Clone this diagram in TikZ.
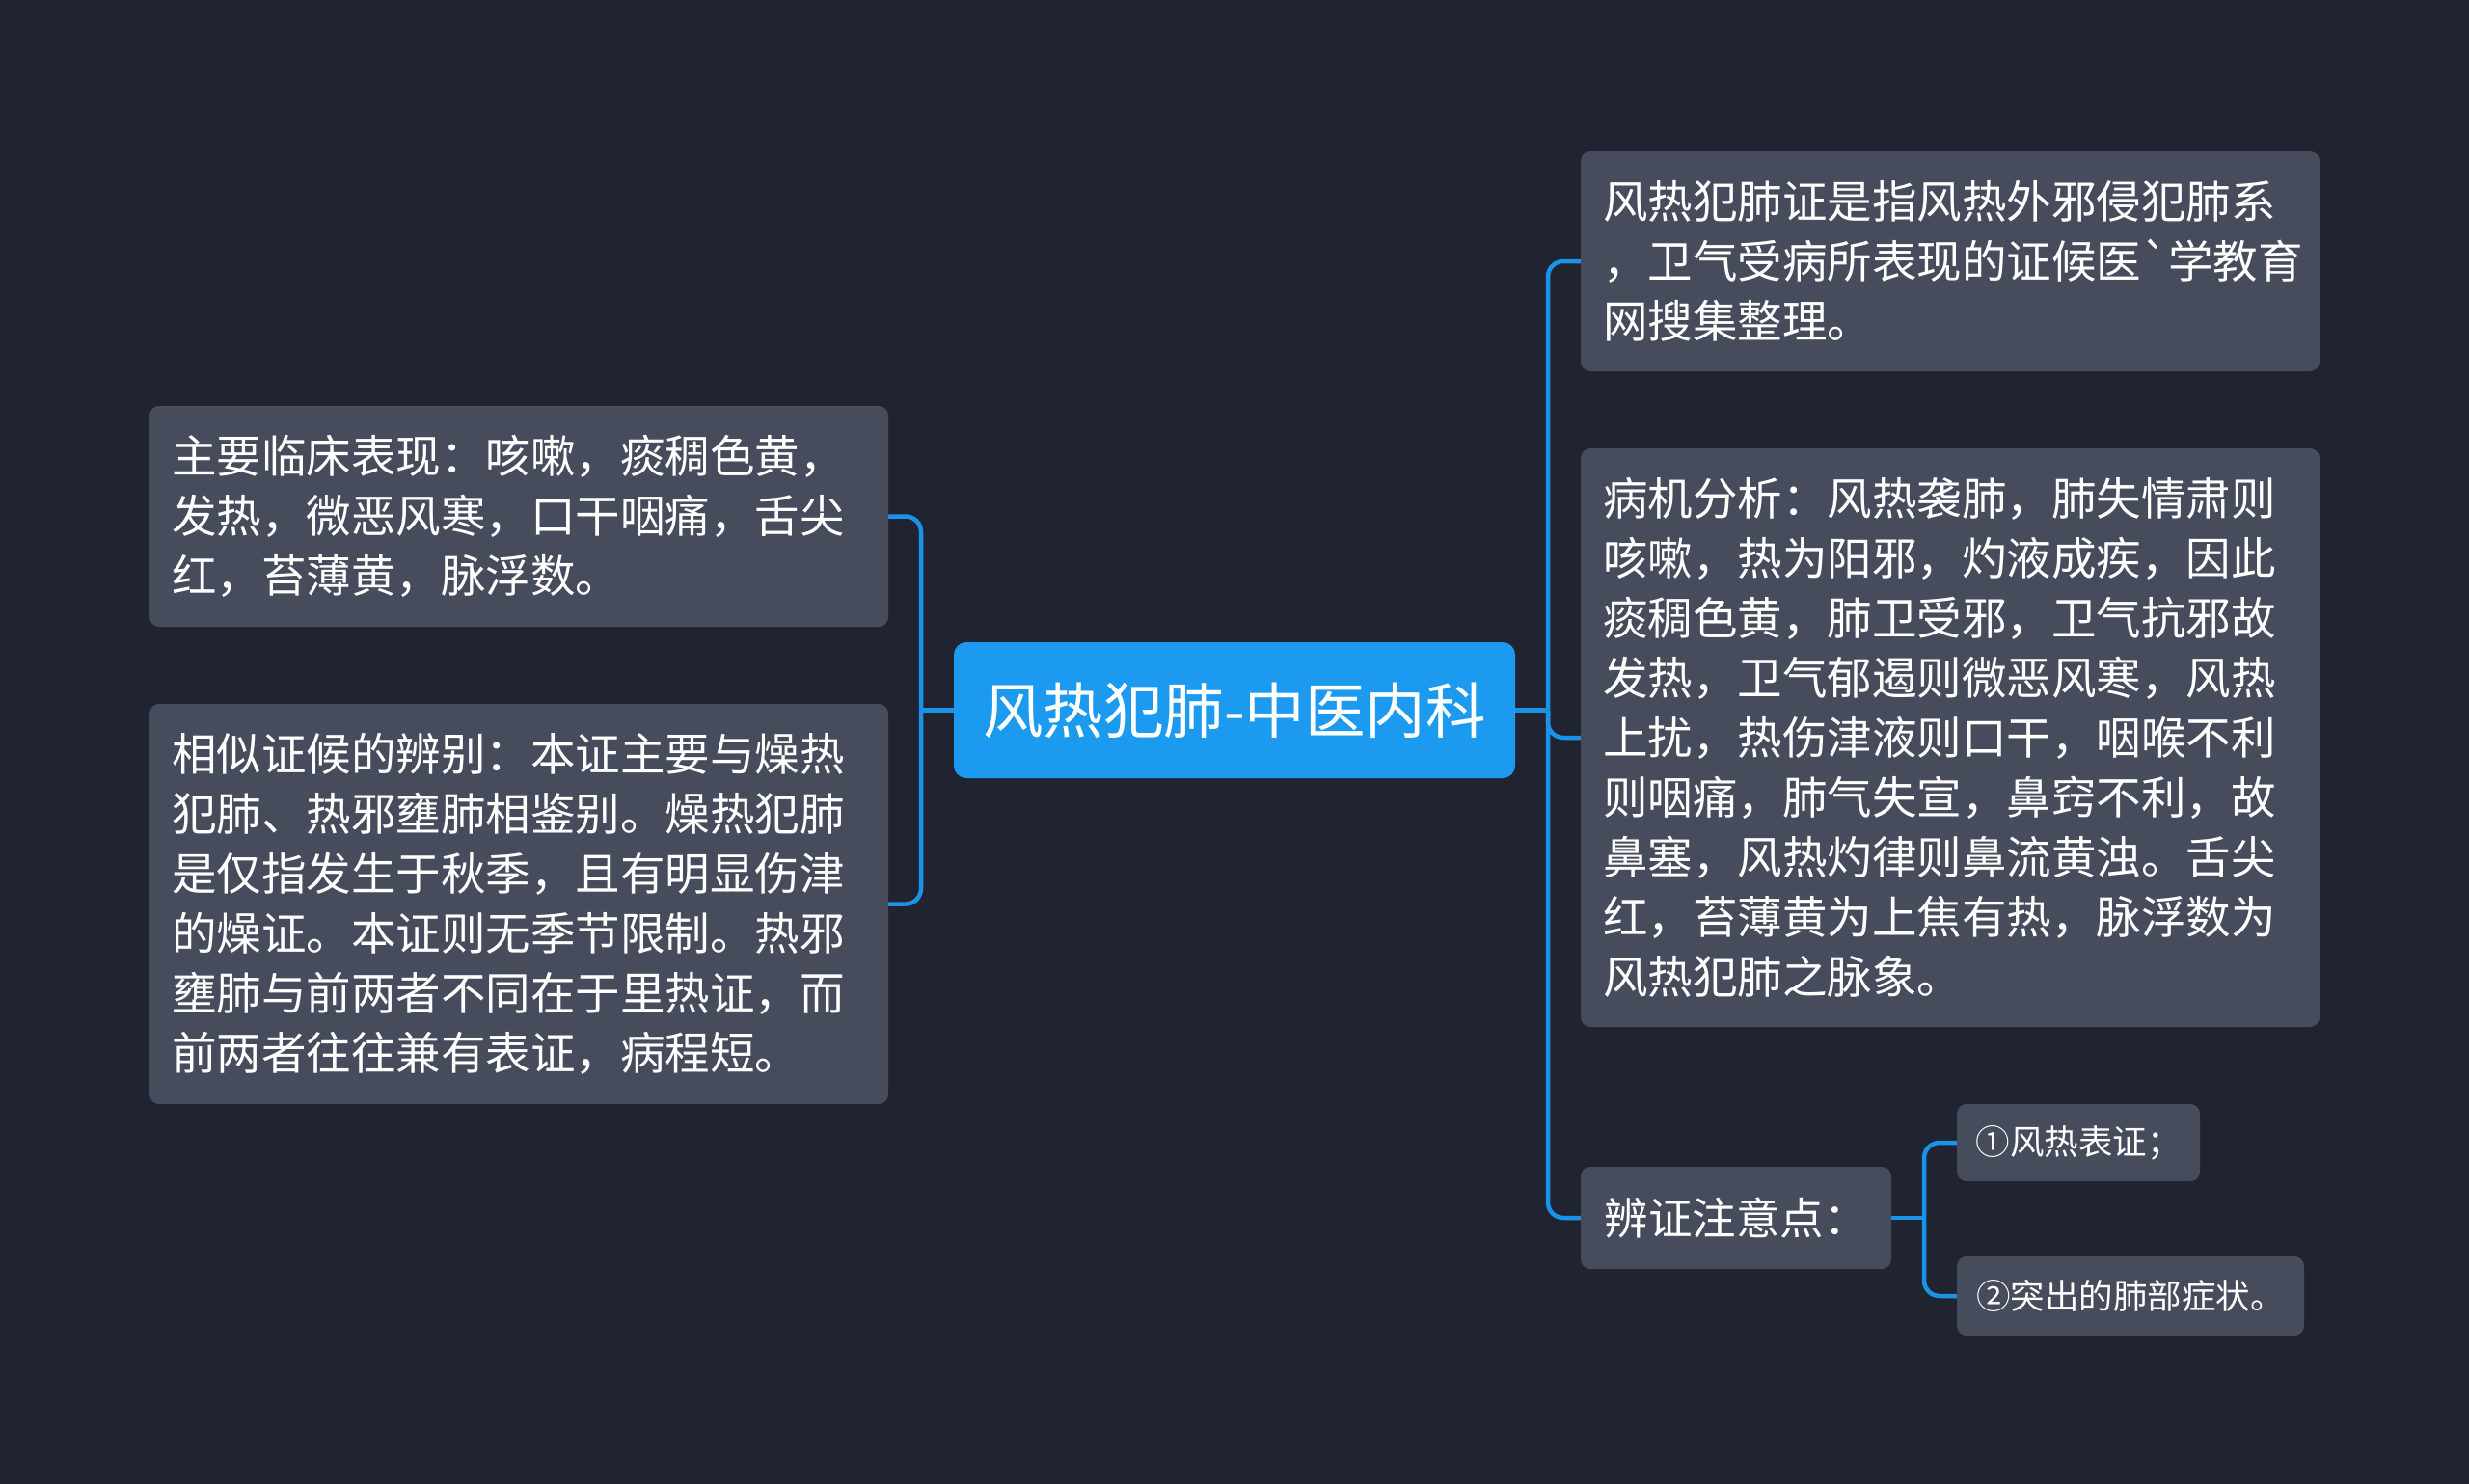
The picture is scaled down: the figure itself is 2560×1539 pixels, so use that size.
\documentclass[tikz,border=0pt]{standalone}
\usepackage{fontspec}
\newfontfamily\cjk{Noto Sans CJK SC}
\definecolor{bgc}{RGB}{32,36,48}
\definecolor{boxc}{RGB}{70,76,92}
\definecolor{rootc}{RGB}{27,154,240}
\definecolor{linec}{RGB}{27,146,232}
\tikzset{
  bigbox/.style={fill=boxc, rounded corners=10pt, text=white, align=left,
    inner xsep=23pt, inner ysep=0pt, text width=720pt, anchor=center,
    font=\cjk\fontsize{46.5}{62}\selectfont},
  smallbox/.style={fill=boxc, rounded corners=10pt, text=white, align=center,
    inner sep=0pt, anchor=center},
  rootbox/.style={fill=rootc, rounded corners=13pt, text=white, align=center,
    inner sep=0pt, minimum width=582pt, minimum height=141pt,
    font=\cjk\fontsize{62.5}{72}\selectfont},
  conn/.style={draw=linec, line width=4.5pt, rounded corners=16pt}
}
\begin{document}
\begin{tikzpicture}[x=1pt,y=-1pt]
\fill[bgc] (0,0) rectangle (2560,1539);
\useasboundingbox (0,0) rectangle (2560,1539);

\node[rootbox] (root) at (1280,736.5) {风热犯肺-中医内科};

\node[bigbox, minimum height=229pt] (L1) at (538,535.5) {主要临床表现：咳嗽，痰稠色黄，\\发热，微恶风寒，口干咽痛，舌尖\\红，苔薄黄，脉浮数。};

\node[bigbox, minimum height=415pt] (L2) at (538,937.5) {相似证候的辨别：本证主要与燥热\\犯肺、热邪壅肺相鉴别。燥热犯肺\\是仅指发生于秋季，且有明显伤津\\的燥证。本证则无季节限制。热邪\\壅肺与前两者不同在于里热证，而\\前两者往往兼有表证，病程短。};

\node[bigbox, minimum height=228pt] (R1) at (2022,271) {风热犯肺证是指风热外邪侵犯肺系\\，卫气受病所表现的证候医`学教育\\网搜集整理。};

\node[bigbox, minimum height=600pt] (R2) at (2022,765) {病机分析：风热袭肺，肺失情肃则\\咳嗽，热为阳邪，灼液成疾，因此\\痰稠色黄，肺卫受邪，卫气抗邪故\\发热，卫气郁遏则微恶风寒，风热\\上扰，热伤津液则口干，咽喉不利\\则咽痛，肺气失宣，鼻窍不利，故\\鼻塞，风热灼律则鼻流黄浊。舌尖\\红，苔薄黄为上焦有热，脉浮数为\\风热犯肺之脉象。};

\node[smallbox, minimum width=322pt, minimum height=106pt, font=\cjk\fontsize{45.5}{54}\selectfont] (R3) at (1800,1263) {辨证注意点：};

\node[smallbox, minimum width=252pt, minimum height=80pt, font=\cjk\fontsize{35.5}{42}\selectfont] (S1) at (2155,1185) {①风热表证；};

\node[smallbox, minimum width=360pt, minimum height=82pt, font=\cjk\fontsize{35.5}{42}\selectfont] (S2) at (2209,1344) {②突出的肺部症状。};

\coordinate (jl) at (955,736.5);
\coordinate (jr) at (1605,736.5);
\coordinate (js) at (1995,1263);

\draw[conn] (root.west) -- (jl);
\draw[conn] (L1.east) -| (jl);
\draw[conn] (L2.east) -| (jl);

\draw[conn] (root.east) -- (jr);
\draw[conn] (jr) |- (R1.west);
\draw[conn] (jr) |- (R2.west);
\draw[conn] (jr) |- (R3.west);

\draw[conn] (R3.east) -- (js);
\draw[conn] (js) |- (S1.west);
\draw[conn] (js) |- (S2.west);
\end{tikzpicture}
\end{document}
